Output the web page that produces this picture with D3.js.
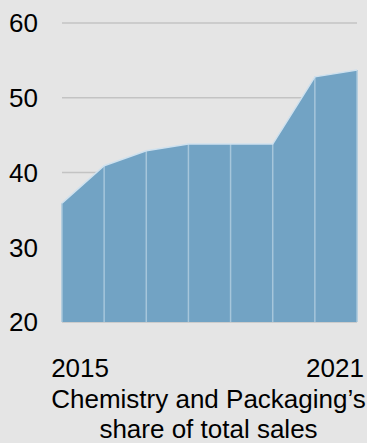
<!DOCTYPE html>
<html>
<head>
<meta charset="utf-8">
<script src="https://cdn.jsdelivr.net/npm/d3@7"></script>
<style>
  html, body { margin: 0; padding: 0; background: #e5e5e5; }
  svg { display: block; font-family: "Liberation Sans", Arial, sans-serif; }
</style>
</head>
<body>
<div id="visualization"></div>
<script>
// chart values
const points = [0, 1, 2, 3, 4, 5, 6, 7];
const shares = [35.9, 40.9, 42.9, 43.8, 43.8, 43.8, 52.8, 53.7];
const years = ["2015", "2016", "2017", "2018", "2019", "2020", "2021"];
const yearLabels = ["2015", "2021"];
const yTicks = [20, 30, 40, 50, 60];
const titleLines = ["Chemistry and Packaging\u2019s", "share of total sales"];

function main(){
    let width = 367;
    let height = 443;

    let svg = d3.select(document.getElementById('visualization'))
        .append('svg')
        .attr('width', width)
        .attr('height', height);

    // scales
    let x = d3.scaleLinear().domain([0, 7]).range([62, 357]);
    let y = d3.scaleLinear().domain([20, 60]).range([322, 23]);
    let xYear = d3.scalePoint().domain(years).range([x(0), x(7)]).padding(0.5);

    let data = points.map((p, i) => ({p: p, v: shares[i]}));

    // gridlines
    svg.append('g')
        .selectAll('line')
        .data(yTicks)
        .enter()
        .append('line')
            .attr('x1', x(0))
            .attr('x2', x(7))
            .attr('y1', (d) => y(d))
            .attr('y2', (d) => y(d))
            .attr('stroke', '#c3c3c3')
            .attr('stroke-width', 1.5);

    // area
    let area = d3.area()
        .x((d) => x(d.p))
        .y0(y(20))
        .y1((d) => y(d.v));

    svg.append('path')
        .datum(data)
        .attr('d', area)
        .attr('fill', '#72a3c4');

    // vertical separators
    svg.append('g')
        .selectAll('line')
        .data(data)
        .enter()
        .append('line')
            .attr('x1', (d) => x(d.p))
            .attr('x2', (d) => x(d.p))
            .attr('y1', (d) => y(d.v))
            .attr('y2', y(20))
            .attr('stroke', '#a6c6db')
            .attr('stroke-width', 1.5);

    // top outline
    let line = d3.line()
        .x((d) => x(d.p))
        .y((d) => y(d.v));

    svg.append('path')
        .datum(data)
        .attr('d', line)
        .attr('fill', 'none')
        .attr('stroke', '#cfe1ee')
        .attr('stroke-width', 1.5);

    // y tick labels
    svg.append('g')
        .selectAll('text')
        .data(yTicks)
        .enter()
        .append('text')
            .attr('x', 38)
            .attr('y', (d) => y(d))
            .attr('dy', '0.36em')
            .attr('text-anchor', 'end')
            .attr('font-size', '26px')
            .attr('fill', '#000')
            .text((d) => d);

    // x labels
    svg.append('g')
        .selectAll('text')
        .data(yearLabels)
        .enter()
        .append('text')
            .attr('x', (d) => xYear(d))
            .attr('dx', (d, i) => i === 0 ? -3 : -1)
            .attr('y', 377)
            .attr('text-anchor', 'middle')
            .attr('font-size', '26px')
            .attr('fill', '#000')
            .text((d) => d);

    // caption
    svg.append('g')
        .selectAll('text')
        .data(titleLines)
        .enter()
        .append('text')
            .attr('x', (x(0) + x(7)) / 2 - 1)
            .attr('y', (d, i) => 408 + i * 30)
            .attr('text-anchor', 'middle')
            .attr('font-size', '26px')
            .attr('fill', '#000')
            .text((d) => d);
}

window.onload = () => {
    main();
}
</script>
</body>
</html>
